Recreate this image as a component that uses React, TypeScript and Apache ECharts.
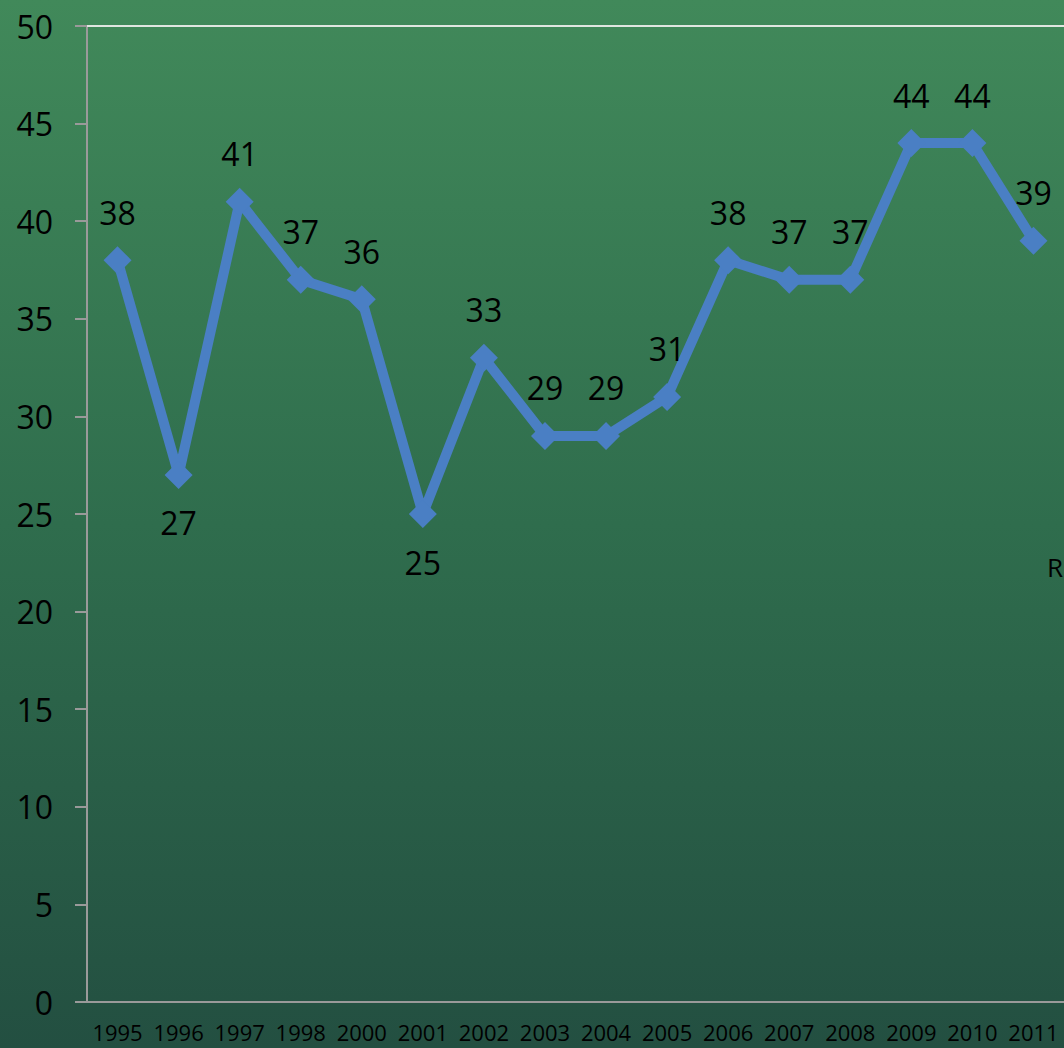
import React, { useEffect, useRef } from "react";
import * as echarts from "echarts";

const categories = ["1995", "1996", "1997", "1998", "2000", "2001", "2002", "2003", "2004", "2005", "2006", "2007", "2008", "2009", "2010", "2011"];
const values = [38, 27, 41, 37, 36, 25, 33, 29, 29, 31, 38, 37, 37, 44, 44, 39];
const belowIdx = [1, 5];

export default function App() {
  const ref = useRef<HTMLDivElement>(null);
  useEffect(() => {
    document.body.style.margin = "0";
    document.body.style.overflow = "hidden";
    const chart = echarts.init(ref.current!, undefined, { renderer: "svg" });
    const font = "'Open Sans', 'Noto Sans', sans-serif";
    chart.setOption({
      animation: false,
      backgroundColor: {
        type: "linear", x: 0, y: 0, x2: 0, y2: 1,
        colorStops: [
          { offset: 0, color: "#41895a" },
          { offset: 0.5, color: "#2f6d4d" },
          { offset: 1, color: "#234f41" },
        ],
      },
      grid: { left: 87, top: 26, width: 979, height: 976 },
      xAxis: [
        {
          type: "category",
          data: categories,
          boundaryGap: true,
          axisLine: { lineStyle: { color: "#9a9a9a", width: 2 } },
          axisTick: { length: 9, lineStyle: { color: "#9a9a9a", width: 2 } },
          axisLabel: { interval: 0, color: "#000", fontSize: 22, fontFamily: font, margin: 19 },
        },
        {
          type: "category",
          data: categories,
          position: "top",
          axisLine: { lineStyle: { color: "#e0e6e0", width: 2 } },
          axisTick: { show: false },
          axisLabel: { show: false },
        },
      ],
      yAxis: {
        type: "value",
        min: 0,
        max: 50,
        interval: 5,
        axisLine: { show: true, lineStyle: { color: "#9a9a9a", width: 2 } },
        axisTick: { show: true, length: 12, lineStyle: { color: "#9a9a9a", width: 2 } },
        splitLine: { show: false },
        axisLabel: { color: "#000", fontSize: 32, fontFamily: font, margin: 34 },
      },
      graphic: [
        { type: "text", left: 1047, top: 554, style: { text: "R", fontSize: 26, fontFamily: font, fill: "#000" } },
      ],
      series: [
        {
          type: "line",
          data: values.map((v, i) => ({
            value: v,
            label: { position: belowIdx.includes(i) ? "bottom" : "top" },
          })),
          symbol: "diamond",
          symbolSize: 28,
          lineStyle: { color: "#4a7fc4", width: 10 },
          itemStyle: { color: "#4a7fc4" },
          label: { show: true, color: "#000", fontSize: 32, fontFamily: font, distance: 18 },
        },
      ],
    });
    return () => chart.dispose();
  }, []);
  return <div ref={ref} style={{ position: "fixed", left: 0, top: 0, width: 1064, height: 1048 }} />;
}
